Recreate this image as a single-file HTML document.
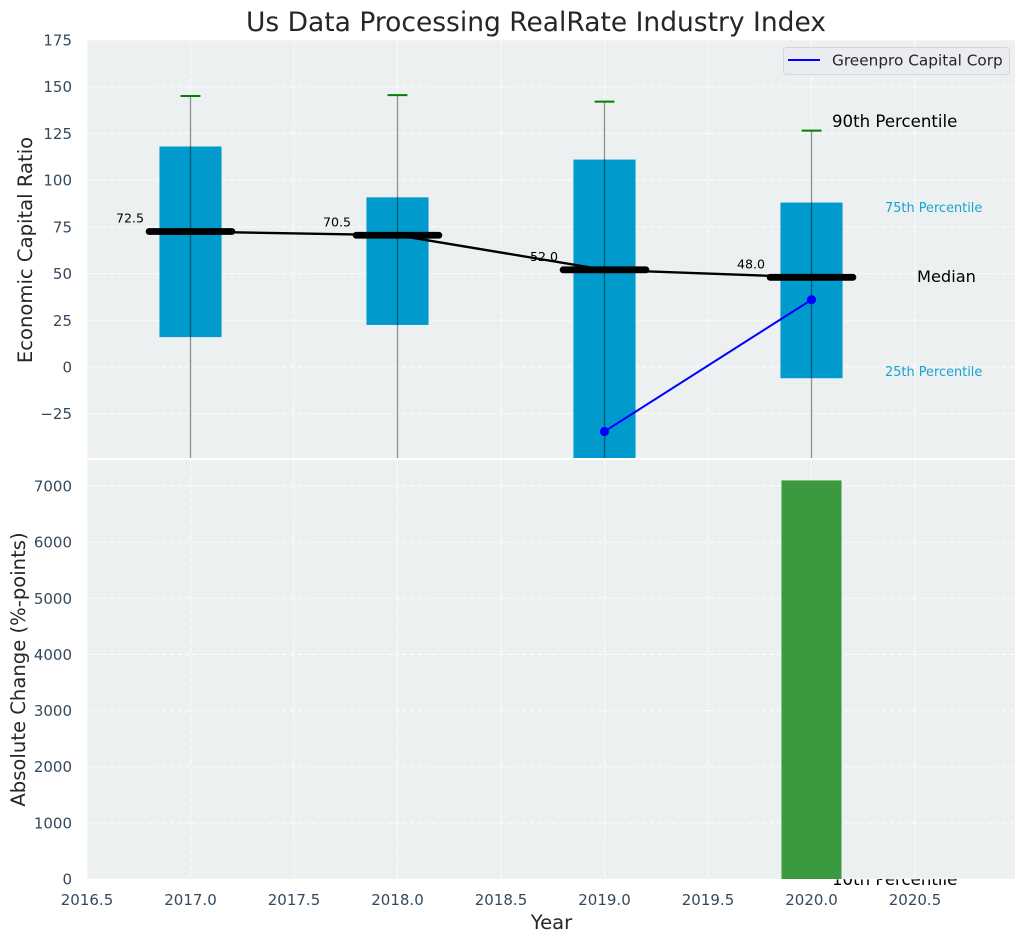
<!DOCTYPE html>
<html>
<head>
<meta charset="utf-8">
<title>Us Data Processing RealRate Industry Index</title>
<style>
html,body{margin:0;padding:0;background:#fff;}
svg{display:block;font-family:"DejaVu Sans","Liberation Sans",sans-serif;}
</style>
</head>
<body>
<svg id="chart" xmlns="http://www.w3.org/2000/svg" width="1026" height="942" viewBox="0 0 1026 942">
  <defs>
    <clipPath id="clip-top"><rect x="87" y="40" width="928" height="418"/></clipPath>
    <clipPath id="clip-bottom"><rect x="87" y="460" width="928" height="419"/></clipPath>
  </defs>
  <text x="536" y="31" text-anchor="middle" font-size="26.5" fill="#262626">Us Data Processing RealRate Industry Index</text>
  <rect x="87" y="40" width="928" height="418" fill="#ecf0f1"/>
  <g id="top-grid"></g>
  <g id="top-marks" clip-path="url(#clip-top)"></g>
  <g id="annotations"></g>
  <rect x="87" y="460" width="928" height="419" fill="#ecf0f1"/>
  <g id="bottom-grid"></g>
  <g id="bottom-marks" clip-path="url(#clip-bottom)"></g>
  <g id="tick-labels"></g>
  <text transform="translate(32,250) rotate(-90)" text-anchor="middle" font-size="19.6" fill="#262626">Economic Capital Ratio</text>
  <text transform="translate(25,669.5) rotate(-90)" text-anchor="middle" font-size="19.6" fill="#262626">Absolute Change (%-points)</text>
  <text x="551.5" y="929" text-anchor="middle" font-size="19.6" fill="#262626">Year</text>
  <g>
    <rect x="783.5" y="47.5" width="226" height="27" rx="3" fill="#ebecf1" stroke="#d3d5d8"/>
    <line x1="788" y1="60" x2="820" y2="60" stroke="#0000ff" stroke-width="2"/>
    <text x="832" y="65.5" font-size="15.3" fill="#262626">Greenpro Capital Corp</text>
  </g>
</svg>
<script>
const years = [2017, 2018, 2019, 2020];
const p90 = [145, 145.5, 142, 126.5];
const p75 = [118, 90.8, 111, 88];
const medians = [72.5, 70.5, 52, 48];
const medianLabels = ['72.5', '70.5', '52.0', '48.0'];
const p25 = [16, 22.5, -60, -6];
const p10 = [-70, -70, -70, -70];
const companyYears = [2019, 2020];
const companyValues = [-34.5, 36];
const changeYears = [2020];
const changeValues = [7100];
const xTicks = [2016.5, 2017, 2017.5, 2018, 2018.5, 2019, 2019.5, 2020, 2020.5];
const xTickLabels = ['2016.5', '2017.0', '2017.5', '2018.0', '2018.5', '2019.0', '2019.5', '2020.0', '2020.5'];
const topTicks = [-25, 0, 25, 50, 75, 100, 125, 150, 175];
const topTickLabels = ['\u221225', '0', '25', '50', '75', '100', '125', '150', '175'];
const bottomTicks = [0, 1000, 2000, 3000, 4000, 5000, 6000, 7000];
const bottomTickLabels = ['0', '1000', '2000', '3000', '4000', '5000', '6000', '7000'];

const NS = 'http://www.w3.org/2000/svg';
function xScale(v) { return 87 + (v - 2016.5) * 207; }
function yTop(v) { return 367 - v * 1.8686; }
function yBottom(v) { return 879 - v * 0.05614; }
function add(parent, tag, attrs, text) {
  const el = document.createElementNS(NS, tag);
  for (const k in attrs) el.setAttribute(k, attrs[k]);
  if (text !== undefined) el.textContent = text;
  document.getElementById(parent).appendChild(el);
  return el;
}
const gridStyle = { stroke: '#ffffff', 'stroke-width': 1, 'stroke-dasharray': '5 2.5', 'stroke-opacity': 0.9 };

xTicks.forEach(function (t, i) {
  const a = add('top-grid', 'line', Object.assign({ x1: xScale(t), x2: xScale(t), y1: 40, y2: 458 }, gridStyle));
  
  
  const b = add('bottom-grid', 'line', Object.assign({ x1: xScale(t), x2: xScale(t), y1: 460, y2: 879 }, gridStyle));
  
  
  const l = add('tick-labels', 'text', { x: xScale(t), y: 905, 'text-anchor': 'middle', 'font-size': 15, fill: '#34495e' }, xTickLabels[i]);
  
  
});
topTicks.forEach(function (t, i) {
  const a = add('top-grid', 'line', Object.assign({ x1: 87, x2: 1015, y1: yTop(t), y2: yTop(t) }, gridStyle));
  
  
  const l = add('tick-labels', 'text', { x: 72, y: yTop(t) + 5.5, 'text-anchor': 'end', 'font-size': 15, fill: '#34495e' }, topTickLabels[i]);
  
  
});
bottomTicks.forEach(function (t, i) {
  const a = add('bottom-grid', 'line', Object.assign({ x1: 87, x2: 1015, y1: yBottom(t), y2: yBottom(t) }, gridStyle));
  
  
  const l = add('tick-labels', 'text', { x: 72, y: yBottom(t) + 5.5, 'text-anchor': 'end', 'font-size': 15, fill: '#34495e' }, bottomTickLabels[i]);
  
  
});

years.forEach(function (year, i) {
  const bar = add('top-marks', 'rect', {
    x: xScale(year - 0.15), y: yTop(p75[i]), width: xScale(year + 0.15) - xScale(year - 0.15),
    height: yTop(p25[i]) - yTop(p75[i]), fill: '#009acd'
  });
  
  
});
years.forEach(function (year, i) {
  const w = add('top-marks', 'line', {
    x1: xScale(year), x2: xScale(year), y1: yTop(p90[i]), y2: yTop(p10[i]),
    stroke: '#000000', 'stroke-opacity': 0.42, 'stroke-width': 1.3
  });
  
  
  const c = add('top-marks', 'line', {
    x1: xScale(year - 0.048), x2: xScale(year + 0.048), y1: yTop(p90[i]), y2: yTop(p90[i]),
    stroke: '#008000', 'stroke-width': 2
  });
  
  
});
const medianPath = add('top-marks', 'polyline', {
  points: years.map(function (y, i) { return xScale(y) + ',' + yTop(medians[i]); }).join(' '),
  fill: 'none', stroke: '#000000', 'stroke-width': 2.4
});


years.forEach(function (year, i) {
  const m = add('top-marks', 'line', {
    x1: xScale(year - 0.2), x2: xScale(year + 0.2), y1: yTop(medians[i]), y2: yTop(medians[i]),
    stroke: '#000000', 'stroke-width': 6.8, 'stroke-linecap': 'round'
  });
  
  
  const t = add('annotations', 'text', {
    x: xScale(year - 0.292), y: yTop(medians[i]) - 9, 'text-anchor': 'middle', 'font-size': 12.6, fill: '#000000'
  }, medianLabels[i]);
  
  
});
const companyLine = add('top-marks', 'polyline', {
  points: companyYears.map(function (y, i) { return xScale(y) + ',' + yTop(companyValues[i]); }).join(' '),
  fill: 'none', stroke: '#0000ff', 'stroke-width': 2
});


companyYears.forEach(function (y, i) {
  const p = add('top-marks', 'circle', { cx: xScale(y), cy: yTop(companyValues[i]), r: 4.6, fill: '#0000ff' });
  
  
});
changeYears.forEach(function (y, i) {
  const b = add('bottom-marks', 'rect', {
    x: xScale(y - 0.145), y: yBottom(changeValues[i]), width: xScale(y + 0.145) - xScale(y - 0.145),
    height: yBottom(0) - yBottom(changeValues[i]), fill: '#3b9a3f'
  });
  
  
});

const a90 = add('annotations', 'text', { x: 832, y: 127, 'font-size': 16.6, fill: '#000000' }, '90th Percentile');


const a75 = add('annotations', 'text', { x: 885, y: 212, 'font-size': 12.9, fill: '#009acd', 'fill-opacity': 0.9 }, '75th Percentile');


const a50 = add('annotations', 'text', { x: 917, y: 282, 'font-size': 16.2, fill: '#000000' }, 'Median');


const a25 = add('annotations', 'text', { x: 885, y: 376, 'font-size': 12.9, fill: '#009acd', 'fill-opacity': 0.9 }, '25th Percentile');


const a10 = add('annotations', 'text', { x: 832, y: 885, 'font-size': 16.6, fill: '#000000' }, '10th Percentile');


</script>
</body>
</html>
